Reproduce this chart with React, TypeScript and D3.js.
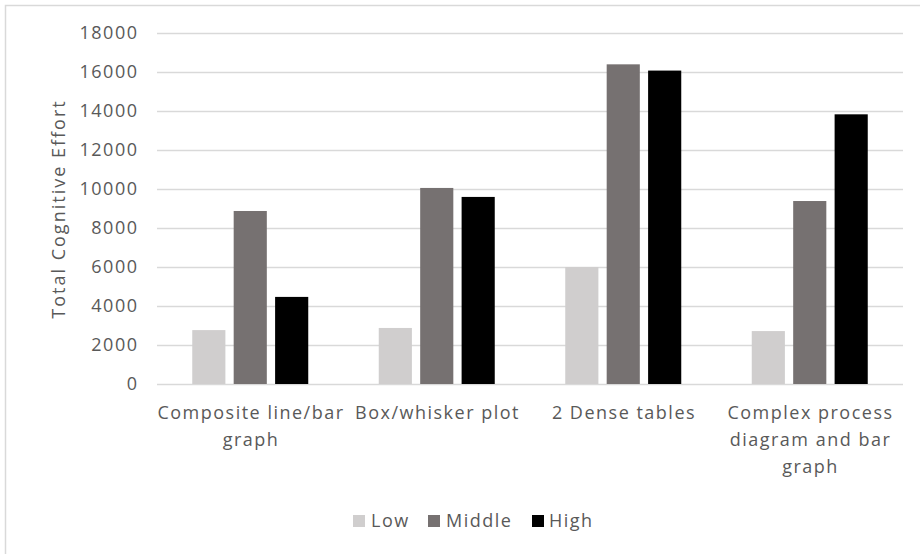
import React from "react";
import * as d3 from "d3";

// Chart data
const categories = [
  "Composite line/bar graph",
  "Box/whisker plot",
  "2 Dense tables",
  "Complex process diagram and bar graph",
];
const categoryLines = [
  ["Composite line/bar", "graph"],
  ["Box/whisker plot"],
  ["2 Dense tables"],
  ["Complex process", "diagram and bar", "graph"],
];
const seriesNames = ["Low", "Middle", "High"];
const lowValues = [2760, 2870, 5990, 2710];
const middleValues = [8860, 10040, 16370, 9370];
const highValues = [4460, 9580, 16050, 13810];
const yTicks = [0, 2000, 4000, 6000, 8000, 10000, 12000, 14000, 16000, 18000];
const yTitle = "Total Cognitive Effort";

const seriesColors = ["#d0cece", "#767171", "#000000"];
const seriesValues = [lowValues, middleValues, highValues];

const W = 920;
const H = 554;
const FONT = "'Open Sans', 'Noto Sans', sans-serif";
const TEXT = "#595959";
const FS = 18;
const LS = 1.5;

export default function App() {
  const x = d3.scaleBand<string>().domain(categories).range([157, 903]).padding(0);
  const groupWidth = 116;
  const x1 = d3
    .scaleBand<string>()
    .domain(seriesNames)
    .range([0, groupWidth])
    .paddingInner(0.2)
    .paddingOuter(0);
  const y = d3.scaleLinear().domain([0, 18000]).range([384, 32.5]);
  const groupOffset = (x.bandwidth() - groupWidth) / 2;

  const legendItems = [
    { name: "Low", sx: 353, tx: 371 },
    { name: "Middle", sx: 428, tx: 446 },
    { name: "High", sx: 532, tx: 549 },
  ];

  return (
    <svg
      width={W}
      height={H}
      style={{ position: "absolute", left: 0, top: 0, background: "#fff" }}
      fontFamily={FONT}
    >
      <rect x={0} y={0} width={W} height={H} fill="#fff" />
      {/* chart area border */}
      <rect x={5.5} y={5.5} width={W + 20} height={H + 20} fill="none" stroke="#d9d9d9" strokeWidth={1.5} />

      {/* gridlines */}
      {yTicks.map((t) => (
        <line
          key={"g" + t}
          x1={157}
          x2={903}
          y1={Math.round(y(t)) + 0.5}
          y2={Math.round(y(t)) + 0.5}
          stroke="#d9d9d9"
          strokeWidth={1.5}
        />
      ))}

      {/* y tick labels */}
      {yTicks.map((t) => (
        <text
          key={"t" + t}
          x={137 + LS}
          y={y(t)}
          dy="0.35em"
          textAnchor="end"
          fontSize={FS}
          letterSpacing={LS}
          fill={TEXT}
        >
          {t}
        </text>
      ))}

      {/* y axis title */}
      <text
        transform={`translate(59,${209}) rotate(-90)`}
        textAnchor="middle"
        dy="0.35em"
        fontSize={FS}
        letterSpacing={2}
        fill={TEXT}
      >
        {yTitle}
      </text>

      {/* bars */}
      {categories.map((c, ci) => (
        <g key={c} transform={`translate(${x(c)! + groupOffset},0)`}>
          {seriesNames.map((s, si) => {
            const v = seriesValues[si][ci];
            return (
              <rect
                key={s}
                x={x1(s)}
                y={y(v)}
                width={x1.bandwidth()}
                height={y(0) - y(v)}
                fill={seriesColors[si]}
              />
            );
          })}
        </g>
      ))}

      {/* category labels */}
      {categories.map((c, ci) => {
        const cx = x(c)! + x.bandwidth() / 2 + LS / 2;
        return (
          <text
            key={"c" + c}
            x={cx}
            y={419}
            textAnchor="middle"
            fontSize={FS}
            letterSpacing={LS}
            fill={TEXT}
          >
            {categoryLines[ci].map((line, li) => (
              <tspan key={li} x={cx} dy={li === 0 ? 0 : 27}>
                {line}
              </tspan>
            ))}
          </text>
        );
      })}

      {/* legend */}
      {legendItems.map((item, i) => (
        <g key={item.name}>
          <rect x={item.sx} y={515} width={12} height={12} fill={seriesColors[i]} />
          <text x={item.tx} y={521} dy="0.35em" fontSize={FS} letterSpacing={LS} fill={TEXT}>
            {item.name}
          </text>
        </g>
      ))}
    </svg>
  );
}
